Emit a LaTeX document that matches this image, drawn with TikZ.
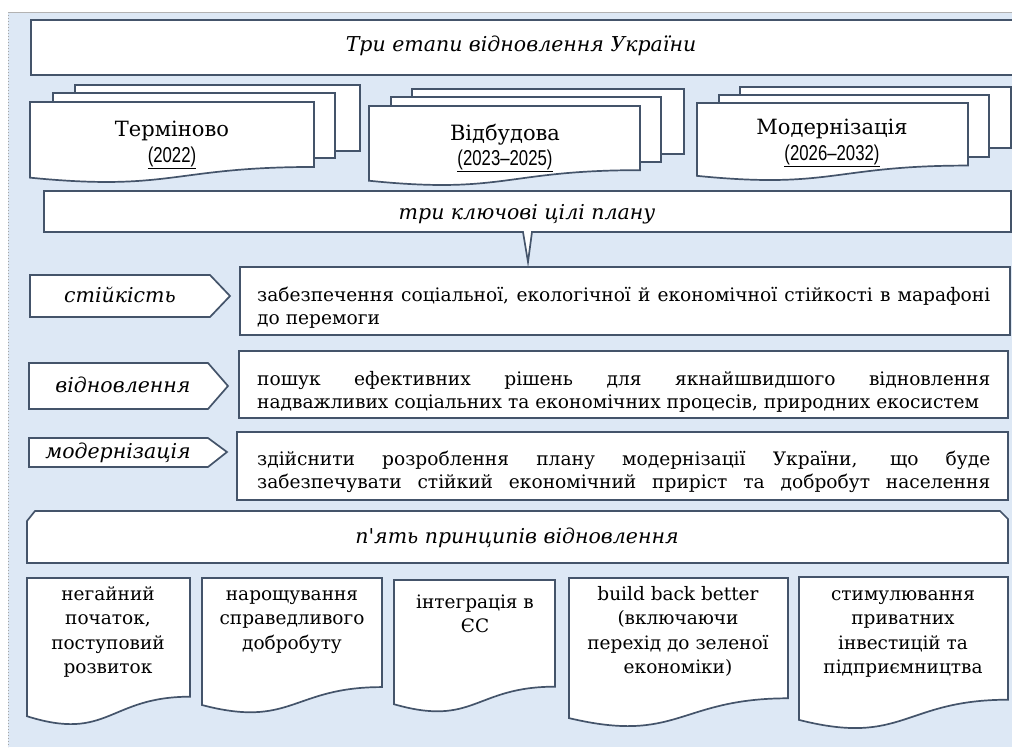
\documentclass[tikz,border=0pt]{standalone}
\usepackage{fontspec}
\setmainfont{DejaVu Serif}
\newfontfamily\narrowfont[FakeStretch=0.78]{Liberation Sans}
\newfontfamily\plainital[Ligatures=TeXOff,ItalicFont={DejaVu Serif Italic}]{DejaVu Serif}
\definecolor{edge}{HTML}{44546A}
\definecolor{panel}{HTML}{DDE8F5}
\newcommand\yr[1]{{\narrowfont\fontsize{21.5}{24}\selectfont\underline{#1}}}
\newcommand\fs{\rule{0pt}{15pt}}
\newcommand\docshape[4]{%
  \draw[shapebox] (#1,#3) -- (#2,#3) -- (#2,{#3+0.802*#4})
    .. controls ({(#1+#2)/2},{#3+0.802*#4}) and ({(#1+#2)/2},{#3+1.1075*#4}) ..
    (#1,{#3+0.934*#4}) -- cycle;}
\begin{document}
\begin{tikzpicture}[x=1pt,y=-1pt,line join=miter,
  shapebox/.style={draw=edge,line width=1.7pt,fill=white},
  body/.style={font=\fontsize{18.6}{23}\selectfont,inner sep=0pt},
  stage/.style={font=\fontsize{21}{24}\selectfont,inner sep=0pt,anchor=base},
  ital/.style={font=\fontsize{20.5}{23}\selectfont\itshape,inner sep=0pt},
  docs/.style={font=\fontsize{18.5}{24.5}\selectfont,align=center,inner sep=0pt,anchor=north}]
\useasboundingbox (0,0) rectangle (1012,747);
% panel
\fill[panel] (8,12) rectangle (1012,747);
\draw[gray!70,dotted,line width=1pt] (8,12) -- (8,747);
\draw[gray!60,line width=1pt] (8,12) -- (1012,12);

% title
\draw[shapebox] (31,20) rectangle (1014,75);
\node[ital,anchor=base] (title) at (521,51) {Три етапи відновлення України};

% stage 1
\draw[shapebox] (75,85) rectangle (360,151);
\draw[shapebox] (53,93) rectangle (335,158);
\docshape{30}{314}{102}{81}
\node[stage] (s1) at (172,136) {Терміново};
\node[inner sep=0pt,anchor=base] (s1y) at (172,162) {\yr{(2022)}};

% stage 2
\draw[shapebox] (412,89) rectangle (684,154);
\draw[shapebox] (391,97) rectangle (661,162);
\docshape{369}{640}{106}{80}
\node[stage] (s2) at (505,140) {Відбудова};
\node[inner sep=0pt,anchor=base] (s2y) at (505,165) {\yr{(2023–2025)}};

% stage 3
\draw[shapebox] (740,87) rectangle (1011,148);
\draw[shapebox] (719,95) rectangle (989,157);
\docshape{697}{968}{103}{78}
\node[stage] (s3) at (832,134) {Модернізація};
\node[inner sep=0pt,anchor=base] (s3y) at (832,160) {\yr{(2026–2032)}};

% goals header with callout
\draw[shapebox] (44,191) -- (1011,191) -- (1011,232) -- (532,232) -- (528,262)
  -- (523,232) -- (44,232) -- cycle;
\node[ital,anchor=base] (goals) at (527,219) {три ключові цілі плану};

% goal 1
\draw[shapebox] (30,275) -- (210,275) -- (230,296) -- (210,317) -- (30,317) -- cycle;
\node[ital,anchor=base] (g1) at (120,302) {стійкість};
\draw[shapebox] (240,267) rectangle (1010,335);
\node[body,anchor=north west,align=left] (t1) at (257,286)
  {\fs\makebox[733pt][s]{забезпечення соціальної, екологічної й економічної стійкості в марафоні}\\до перемоги};

% goal 2
\draw[shapebox] (29,363) -- (208,363) -- (228,386) -- (208,409) -- (29,409) -- cycle;
\node[ital,anchor=base] (g2) at (123,392) {відновлення};
\draw[shapebox] (239,351) rectangle (1008,418);
\node[body,anchor=north west,align=left] (t2) at (257,370)
  {\fs\makebox[733pt][s]{пошук ефективних рішень для якнайшвидшого відновлення}\\надважливих соціальних та економічних процесів, природних екосистем};

% goal 3
\draw[shapebox] (29,438) -- (208,438) -- (227,452) -- (208,467) -- (29,467) -- cycle;
\node[ital,anchor=base] (g3) at (118,458) {модернізація};
\draw[shapebox] (237,432) rectangle (1008,500);
\node[body,anchor=north west,align=left] (t3) at (257,450)
  {\fs\makebox[733pt][s]{здійснити розроблення плану модернізації України, що буде}\\\makebox[733pt][s]{забезпечувати стійкий економічний приріст та добробут населення}};

% principles header
\draw[shapebox] (27,521) -- (35,511) -- (1000,511) -- (1008,519) -- (1008,563) -- (27,563) -- cycle;
\node[inner sep=0pt,anchor=base,font={\plainital\fontsize{20.5}{23}\selectfont\itshape}] (pr) at (517,543) {п'ять принципів відновлення};

% principle documents
\docshape{27}{190}{578}{148}
\node[docs] (p1) at (108,585) {\fs негайний\\початок,\\поступовий\\розвиток};
\docshape{202}{382}{578}{136}
\node[docs] (p2) at (292,585) {\fs нарощування\\справедливого\\добробуту};
\docshape{394}{555}{580}{133}
\node[docs] (p3) at (475,593) {\fs інтеграція в\\ЄС};
\docshape{569}{788}{578}{150}
\node[docs] (p4) at (678,585) {\fs build back better\\(включаючи\\перехід до зеленої\\економіки)};
\docshape{799}{1008}{577}{153}
\node[docs] (p5) at (903,585) {\fs стимулювання\\приватних\\інвестицій та\\підприємництва};
\end{tikzpicture}
\end{document}
